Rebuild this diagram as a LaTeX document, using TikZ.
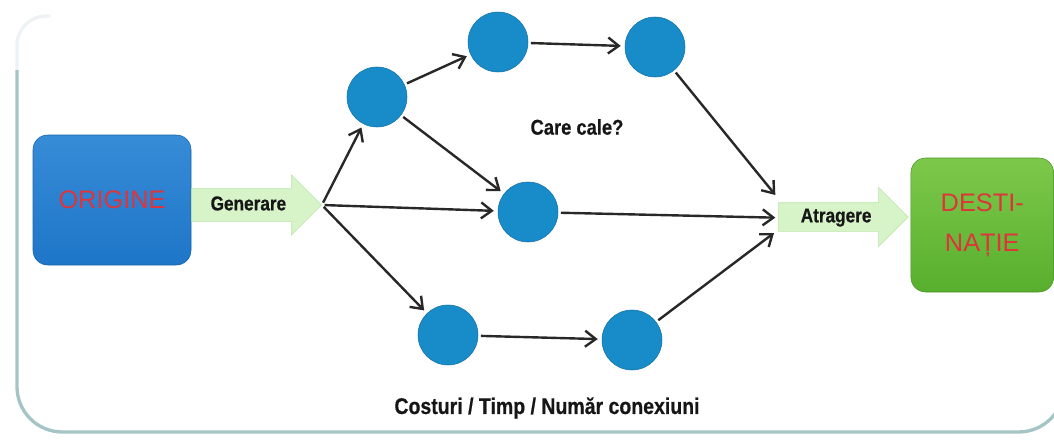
\documentclass[tikz,border=0pt]{standalone}
\usepackage{fontspec}
\setmainfont{Liberation Sans}
\newfontfamily\narrowbf[FakeStretch=0.86,FakeBold=0.6]{Liberation Sans Bold}
\usetikzlibrary{arrows.meta,positioning,shapes.arrows}
\definecolor{origblue}{RGB}{30,118,200}
\definecolor{origblueL}{RGB}{55,140,215}
\definecolor{destgreen}{RGB}{88,175,45}
\definecolor{destgreenL}{RGB}{125,200,75}
\definecolor{ballblue}{RGB}{24,140,200}
\definecolor{ballrim}{RGB}{18,112,170}
\definecolor{labelred}{RGB}{222,52,58}
\definecolor{arrowfill}{RGB}{214,244,200}
\definecolor{arrowedge}{RGB}{190,228,170}
\definecolor{linegray}{RGB}{40,40,40}
\definecolor{textdark}{RGB}{22,22,22}
\definecolor{framecol}{RGB}{165,196,198}
\tikzset{
  endbox/.style={draw,rounded corners=11pt,align=center,text=labelred,
    font=\fontsize{19}{30}\selectfont},
  ball/.style={circle,draw=ballrim,fill=ballblue,minimum size=45pt,inner sep=0pt},
  bigarrow/.style={single arrow,draw=arrowedge,fill=arrowfill,text=textdark,
    font=\narrowbf\fontsize{15}{18}\selectfont,
    text height=11pt,text depth=3pt,minimum height=97.5pt},
  flow/.style={-{Straight Barb[length=8pt,width=12pt]},line width=1.8pt,
    draw=linegray,shorten >=3pt,shorten <=2pt},
  note/.style={text=textdark,font=\narrowbf\fontsize{17}{20}\selectfont},
  frameline/.style={draw=framecol,line width=2.5pt},
}
\begin{document}
\begin{tikzpicture}[x=0.75pt,y=-0.75pt]
\useasboundingbox (0,0) rectangle (1054,443);
% Frame round the scheme
\draw[frameline,rounded corners=34pt] (17,70) -- (17,432) -- (1064,432) -- (1064,360);
\draw[frameline,draw opacity=0.2,rounded corners=22pt] (17,72) -- (17,16) -- (50,16);
% Origin, generation arrow, attraction arrow, destination
\node[endbox,top color=origblueL,bottom color=origblue,draw=origblue!85!black,
  minimum width=118.5pt,minimum height=97.5pt] (orig) at (112,200) {ORIGINE};
\node[bigarrow,inner ysep=5pt,single arrow head extend=10.5pt,
  right=0pt of orig,yshift=-3.75pt] (gen) {Generare};
\node[bigarrow,inner ysep=3.5pt,single arrow head extend=11.6pt,
  anchor=tail] (atr) at (778,217) {Atragere};
\node[endbox,top color=destgreenL,bottom color=destgreen,draw=destgreen!85!black,
  minimum width=107pt,minimum height=100.5pt,right=1.5pt of atr,yshift=-6pt]
  (dest) {DESTI-\\NAȚIE};
% Intermediate points of the paths
\node[ball] (v1) at (377,97) {};
\node[ball] (v2) at (498,42) {};
\node[ball] (v3) at (655,47) {};
\node[ball] (v4) at (528,212) {};
\node[ball] (v5) at (448,335) {};
\node[ball] (v6) at (632,340) {};
\coordinate (m1) at ([xshift=-2pt,yshift=16.5pt]atr.tail);
\coordinate (m2) at ([xshift=-2pt,yshift=-0.5pt]atr.tail);
\coordinate (m3) at ([xshift=-3pt,yshift=-12pt]atr.tail);
% Labels
\node[note,font=\narrowbf\fontsize{16}{20}\selectfont] (which) at (577,127) {Care cale?};
\node[note] (cost) at (547,408) {Costuri / Timp / Număr conexiuni};
% Connectors
\draw[flow] (gen.tip) -- (v1);
\draw[flow] (gen.tip) -- (v4);
\draw[flow] (gen.tip) -- (v5);
\draw[flow] (v1) -- (v2);
\draw[flow] (v1) -- (v4);
\draw[flow] (v2) -- (v3);
\draw[flow] (v5) -- (v6);
\draw[flow,shorten >=0pt] (v3) -- (m1);
\draw[flow,shorten >=0pt] (v4) -- (m2);
\draw[flow,shorten >=0pt] (v6) -- (m3);
\end{tikzpicture}
\end{document}
